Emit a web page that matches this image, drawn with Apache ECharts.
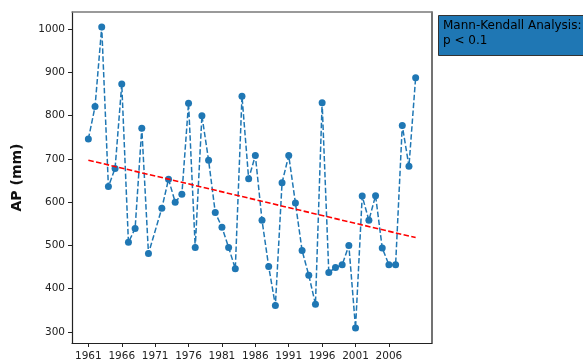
<!DOCTYPE html>
<html>
<head>
<meta charset="utf-8">
<script src="https://cdn.jsdelivr.net/npm/echarts@6/dist/echarts.min.js"></script>
<style>
  html, body { margin: 0; padding: 0; background: #fff; }
  #chart { width: 583px; height: 362px; }
</style>
</head>
<body>
<div id="chart"></div>
<script>
// Annual precipitation (mm), 1961-2010 (no record for 1971)
const years = [1961, 1962, 1963, 1964, 1965, 1966, 1967, 1968, 1969, 1970,
               1972, 1973, 1974, 1975, 1976, 1977, 1978, 1979, 1980,
               1981, 1982, 1983, 1984, 1985, 1986, 1987, 1988, 1989, 1990,
               1991, 1992, 1993, 1994, 1995, 1996, 1997, 1998, 1999, 2000,
               2001, 2002, 2003, 2004, 2005, 2006, 2007, 2008, 2009, 2010];
const precip = [746, 821, 1005, 636, 678, 873, 507, 539, 771, 481,
                586, 653, 600, 618, 829, 495, 800, 697, 576,
                542, 495, 446, 845, 654, 708, 558, 451, 361, 645,
                708, 598, 488, 431, 364, 830, 437, 449, 455, 500,
                309, 614, 558, 615, 494, 455, 455, 777, 683, 888];

// Linear trend line endpoints
const trendYears = [1961, 2010];
const trendValues = [697, 518];

// Tick labels
const xTicks = [1961, 1966, 1971, 1976, 1981, 1986, 1991, 1996, 2001, 2006];
const yTicks = [300, 400, 500, 600, 700, 800, 900, 1000];

const legendLines = ['Mann-Kendall Analysis:', 'p < 0.1'];

const seriesData = years.map((y, i) => [y, precip[i]]);
const trendData = trendYears.map((y, i) => [y, trendValues[i]]);

const chart = echarts.init(document.getElementById('chart'), null, { renderer: 'canvas' });
const font = 'DejaVu Sans';
const xRange = { min: 1958.55, max: 2012.45 };
const yRange = { min: 274.2, max: 1039.8 };

// plain frame edges (top and right spines)
const spine = (pos, color) => ({
  type: 'value', position: pos, ...(pos === 'top' ? xRange : yRange),
  axisLine: { show: true, onZero: false, lineStyle: { color: color, width: 1.5 } },
  axisTick: { show: false }, axisLabel: { show: false }, splitLine: { show: false }
});

chart.setOption({
  animation: false,
  backgroundColor: '#ffffff',
  grid: { left: 72, right: 151, top: 12, bottom: 19 },
  xAxis: [
    {
      type: 'value',
      ...xRange,
      axisLine: { show: true, onZero: false, lineStyle: { color: '#222', width: 1.2 } },
      axisTick: { show: true, length: 4, customValues: xTicks, lineStyle: { color: '#222' } },
      axisLabel: {
        customValues: xTicks, fontFamily: font, fontSize: 10.5, color: '#222', margin: 8,
        formatter: v => String(v)
      },
      splitLine: { show: false }
    },
    spine('top', '#7a7a7a')
  ],
  yAxis: [
    {
      type: 'value',
      ...yRange,
      name: 'AP (mm)',
      nameLocation: 'middle',
      nameGap: 48,
      nameTextStyle: { fontFamily: font, fontSize: 14, fontWeight: 'bold', color: '#111' },
      axisLine: { show: true, onZero: false, lineStyle: { color: '#222', width: 1.2 } },
      axisTick: { show: true, length: 4, customValues: yTicks, lineStyle: { color: '#222' } },
      axisLabel: {
        customValues: yTicks, fontFamily: font, fontSize: 10.5, color: '#222', margin: 7,
        formatter: v => String(v)
      },
      splitLine: { show: false }
    },
    spine('right', '#444')
  ],
  series: [
    {
      type: 'line',
      data: seriesData,
      symbol: 'circle',
      symbolSize: 7,
      itemStyle: { color: '#1f77b4' },
      lineStyle: { color: '#1f77b4', width: 1.5, type: [5.5, 2.4] },
      z: 2
    },
    {
      type: 'line',
      data: trendData,
      symbol: 'none',
      lineStyle: { color: '#ff0000', width: 1.6, type: [5.5, 2.4] },
      z: 3
    }
  ],
  graphic: [
    {
      type: 'rect',
      shape: { x: 438.5, y: 15.5, width: 160, height: 40 },
      style: { fill: '#1f77b4', stroke: '#333', lineWidth: 1 },
      z: 10
    },
    {
      type: 'text',
      x: 443, y: 19,
      style: {
        text: legendLines.join('\n'),
        font: '12px "DejaVu Sans"',
        lineHeight: 14.5,
        fill: '#000'
      },
      z: 11
    }
  ]
});
</script>
</body>
</html>
